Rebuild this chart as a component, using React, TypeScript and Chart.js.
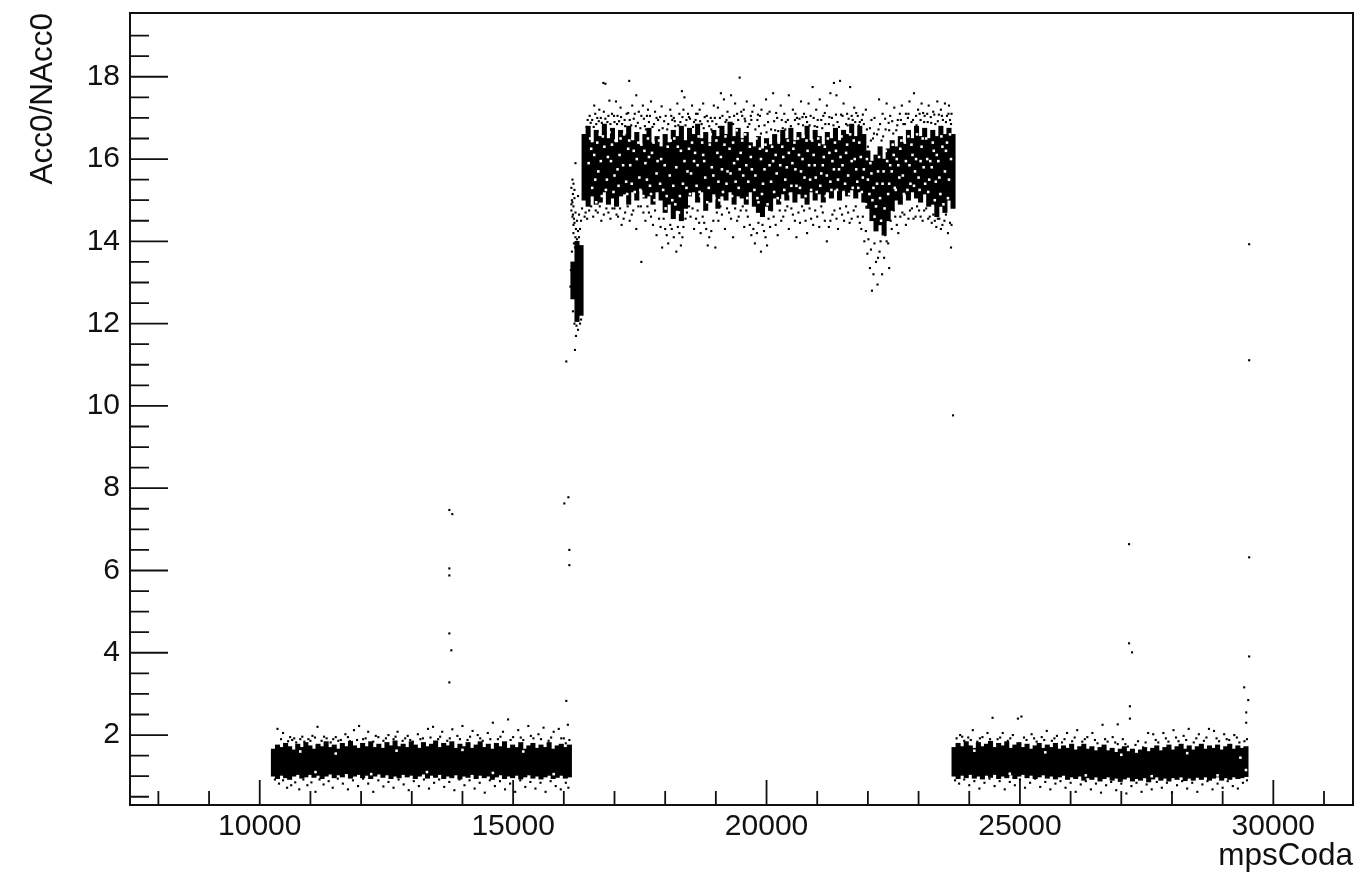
import React, { useEffect, useRef } from "react";
import { Chart, registerables } from "chart.js";

Chart.register(...registerables);

const xMajorTicks = [10000, 15000, 20000, 25000, 30000];
const xMinorTicks = [8000, 9000, 11000, 12000, 13000, 14000, 16000, 17000, 18000, 19000, 21000, 22000, 23000, 24000, 26000, 27000, 28000, 29000, 31000];
const yMajorTicks = [2, 4, 6, 8, 10, 12, 14, 16, 18];
const yMinorTicks = [0.5, 1, 1.5, 2.5, 3, 3.5, 4.5, 5, 5.5, 6.5, 7, 7.5, 8.5, 9, 9.5, 10.5, 11, 11.5, 12.5, 13, 13.5, 14.5, 15, 15.5, 16.5, 17, 17.5, 18.5, 19];

// Saturated core of each band, per 80-unit column of mpsCoda
const binWidth = 80;
const leftBandStart = 10270;
const leftBandLow = [1.0, 0.94, 1.02, 0.96, 0.92, 1.0, 1.04, 0.95, 0.98, 1.04, 0.97, 1.02, 0.94, 1.0, 1.05, 0.96, 1.03, 0.98, 1.06, 0.95, 1.0, 1.04, 0.96, 1.02, 0.94, 1.0, 1.05, 0.97, 1.03, 0.94, 1.0, 0.96, 1.04, 0.98, 1.02, 0.94, 1.0, 1.05, 0.95, 1.02, 0.97, 1.04, 0.94, 1.0, 0.96, 1.03, 0.93, 1.0, 0.97, 1.04, 0.94, 1.02, 0.96, 1.0, 0.92, 0.98, 1.03, 0.94, 1.0, 0.96, 1.02, 0.93, 0.98, 1.03, 0.95, 1.0, 0.93, 0.98, 1.02, 0.94, 0.97, 1.02, 0.95, 0.98];
const leftBandHigh = [1.66, 1.76, 1.7, 1.8, 1.72, 1.64, 1.78, 1.7, 1.82, 1.74, 1.66, 1.78, 1.72, 1.84, 1.7, 1.76, 1.66, 1.8, 1.72, 1.85, 1.74, 1.68, 1.8, 1.72, 1.84, 1.7, 1.78, 1.68, 1.82, 1.74, 1.86, 1.72, 1.78, 1.7, 1.84, 1.76, 1.68, 1.82, 1.72, 1.78, 1.86, 1.7, 1.8, 1.74, 1.84, 1.68, 1.78, 1.72, 1.82, 1.68, 1.76, 1.84, 1.7, 1.78, 1.66, 1.8, 1.72, 1.84, 1.68, 1.76, 1.7, 1.82, 1.66, 1.74, 1.8, 1.68, 1.76, 1.7, 1.82, 1.66, 1.74, 1.78, 1.7, 1.76];
const rightBandStart = 23700;
const rightBandLow = [1.0, 0.94, 1.02, 0.96, 1.04, 0.95, 1.0, 0.93, 1.02, 0.97, 1.04, 0.94, 1.0, 0.96, 1.03, 0.94, 1.0, 1.04, 0.96, 1.02, 0.94, 0.98, 1.03, 0.95, 1.0, 0.93, 0.98, 1.02, 0.92, 0.98, 0.94, 1.0, 0.9, 0.96, 0.92, 0.98, 0.88, 0.94, 0.98, 0.9, 0.95, 0.87, 0.93, 0.97, 0.88, 0.94, 0.9, 0.96, 0.86, 0.93, 0.98, 0.9, 0.95, 0.88, 0.96, 0.92, 0.98, 0.89, 0.95, 0.9, 0.97, 0.92, 0.98, 0.9, 0.95, 0.98, 0.9, 0.96, 0.92, 0.98, 0.94, 0.96, 0.99];
const rightBandHigh = [1.7, 1.8, 1.72, 1.84, 1.74, 1.68, 1.82, 1.72, 1.78, 1.85, 1.7, 1.8, 1.74, 1.84, 1.68, 1.76, 1.82, 1.7, 1.78, 1.66, 1.74, 1.8, 1.68, 1.76, 1.7, 1.8, 1.66, 1.74, 1.68, 1.78, 1.64, 1.72, 1.78, 1.66, 1.72, 1.62, 1.7, 1.76, 1.62, 1.68, 1.58, 1.66, 1.72, 1.6, 1.66, 1.56, 1.64, 1.7, 1.6, 1.68, 1.74, 1.62, 1.7, 1.76, 1.64, 1.72, 1.78, 1.66, 1.74, 1.64, 1.72, 1.78, 1.66, 1.74, 1.68, 1.76, 1.64, 1.72, 1.78, 1.66, 1.74, 1.68, 1.72];
const upperBandStart = 16400;
const upperBandLow = [15.0, 14.85, 15.1, 14.9, 14.95, 15.2, 14.9, 15.05, 14.85, 15.1, 15.15, 14.9, 15.2, 15.0, 15.25, 15.05, 15.1, 14.9, 15.2, 15.0, 14.7, 14.9, 14.55, 14.75, 14.5, 14.8, 15.1, 15.2, 14.95, 15.2, 14.75, 14.95, 15.15, 14.8, 15.1, 15.0, 15.2, 14.9, 15.1, 15.05, 14.9, 15.2, 14.85, 14.7, 14.6, 14.85, 14.75, 15.05, 14.9, 15.15, 15.0, 15.2, 14.95, 15.15, 15.05, 14.9, 15.2, 15.0, 15.15, 14.95, 15.2, 15.05, 15.25, 15.0, 15.2, 15.1, 15.25, 15.05, 15.2, 14.95, 14.8, 14.5, 14.25, 14.4, 14.15, 14.5, 14.75, 15.0, 14.9, 15.15, 15.0, 15.2, 15.05, 14.95, 15.15, 14.85, 14.9, 14.6, 14.85, 14.7, 15.0, 14.8];
const upperBandHigh = [16.6, 16.8, 16.4, 16.7, 16.55, 16.85, 16.5, 16.75, 16.4, 16.7, 16.6, 16.8, 16.45, 16.65, 16.35, 16.6, 16.75, 16.4, 16.55, 16.3, 16.6, 16.4, 16.7, 16.55, 16.8, 16.45, 16.75, 16.6, 16.85, 16.5, 16.65, 16.4, 16.7, 16.55, 16.8, 16.6, 16.9, 16.55, 16.75, 16.5, 16.65, 16.4, 16.3, 16.55, 16.25, 16.5, 16.35, 16.6, 16.4, 16.7, 16.5, 16.75, 16.45, 16.65, 16.5, 16.8, 16.45, 16.7, 16.55, 16.35, 16.65, 16.5, 16.75, 16.45, 16.7, 16.6, 16.85, 16.55, 16.8, 16.6, 16.2, 15.95, 16.1, 16.3, 16.0, 16.25, 16.45, 16.3, 16.55, 16.4, 16.7, 16.5, 16.8, 16.55, 16.75, 16.5, 16.7, 16.55, 16.8, 16.6, 16.75, 16.6];
const spikeCore = [[16180, 12.6, 13.5], [16260, 12.05, 14.0], [16340, 12.2, 13.9]];

// Unfilled pixels inside the upper band's saturated core
const upperBandGaps = [
  [16520, 16.5], [16560, 15.3], [16600, 16.1], [16640, 14.95], [16680, 15.7], [16710, 16.6], [16750, 15.1], [16800, 16.3], [16850, 15.5], [16900, 16.65], [16930, 15.95], [16980, 15.2],
  [17020, 16.45], [17060, 15.75], [17100, 16.1], [17140, 15.05], [17190, 16.6], [17230, 15.45], [17270, 16.25], [17310, 15.85], [17360, 16.5], [17400, 15.2], [17440, 16.0], [17490, 15.55],
  [17530, 16.35], [17570, 15.1], [17610, 15.9], [17660, 16.5], [17700, 15.35], [17740, 16.15], [17790, 15.0], [17830, 15.65], [17880, 16.45], [17920, 16.0], [17960, 15.25], [18010, 14.8],
  [18050, 16.3], [18090, 15.6], [18140, 15.0], [18180, 16.5], [18220, 15.8], [18270, 14.7], [18310, 16.2], [18350, 15.4], [18400, 16.6], [18440, 15.7], [18490, 15.15], [18530, 16.4],
  [18570, 15.95], [18620, 15.35], [18660, 16.55], [18700, 15.1], [18750, 16.1], [18790, 15.55], [18830, 14.95], [18880, 16.35], [18920, 15.8], [18970, 15.05], [19010, 16.45], [19050, 15.45],
  [19100, 16.05], [19140, 15.2], [19190, 16.55], [19230, 15.7], [19270, 16.25], [19320, 15.1], [19360, 15.9], [19410, 16.7], [19450, 15.3], [19490, 16.15], [19540, 15.6], [19580, 16.6],
  [19620, 15.05], [19670, 16.3], [19710, 15.75], [19760, 15.25], [19800, 16.5], [19840, 14.95], [19890, 16.0], [19930, 15.4], [19980, 16.35], [20020, 14.9], [20060, 15.85], [20110, 16.3],
  [20150, 15.2], [20200, 15.65], [20240, 16.4], [20290, 15.0], [20330, 16.05], [20370, 15.5], [20420, 16.45], [20460, 15.15], [20510, 15.9], [20550, 16.4], [20590, 15.35], [20640, 16.1],
  [20680, 15.7], [20730, 16.55], [20770, 15.1], [20810, 16.2], [20860, 15.5], [20900, 16.45], [20950, 15.85], [20990, 15.2], [21040, 16.35], [21080, 15.65], [21130, 16.05], [21170, 15.1],
  [21210, 16.5], [21260, 15.45], [21300, 15.95], [21350, 16.4], [21390, 15.25], [21430, 15.75], [21480, 16.55], [21520, 15.2], [21570, 16.15], [21610, 15.6], [21650, 16.6], [21700, 15.3],
  [21740, 16.0], [21790, 15.45], [21830, 16.4], [21880, 15.2], [21920, 15.75], [21960, 14.9], [22000, 15.5], [22050, 15.9], [22090, 15.0], [22130, 14.6], [22180, 15.4], [22220, 16.05],
  [22260, 14.5], [22310, 15.7], [22350, 16.2], [22400, 15.15], [22440, 15.85], [22490, 16.35], [22530, 15.3], [22570, 16.0], [22620, 15.55], [22660, 16.45], [22710, 15.15], [22750, 15.95],
  [22800, 16.55], [22840, 15.4], [22880, 16.1], [22930, 15.7], [22970, 16.6], [23020, 15.25], [23060, 16.3], [23100, 15.8], [23150, 16.5], [23190, 15.2], [23230, 15.95], [23280, 16.4],
  [23320, 15.0], [23360, 16.1], [23410, 15.55], [23450, 16.55], [23490, 14.9], [23540, 16.2], [23580, 15.05], [23620, 16.6],
  [16490, 15.9], [16540, 16.25], [16620, 15.5], [16660, 16.4], [16730, 15.95], [16770, 16.55], [16830, 15.25], [16870, 16.05], [16950, 16.35], [17000, 15.6], [17080, 15.35], [17120, 16.5],
  [17170, 15.85], [17250, 15.15], [17290, 16.45], [17340, 15.4], [17380, 16.2], [17470, 16.4], [17510, 15.25], [17590, 16.2], [17640, 15.5], [17680, 16.05], [17720, 15.15], [17770, 16.4],
  [17850, 15.95], [17900, 15.4], [17990, 15.85], [18030, 15.1], [18110, 16.45], [18160, 15.35], [18200, 14.9], [18250, 16.3], [18290, 15.1], [18380, 15.95], [18420, 15.3], [18470, 16.25],
  [18510, 15.65], [18590, 16.15], [18640, 15.85], [18680, 15.2], [18730, 16.4], [18770, 15.95], [18860, 15.3], [18900, 16.6], [18950, 15.6], [19030, 16.15], [19070, 15.0], [19120, 15.75],
  [19170, 16.35], [19210, 15.4], [19290, 15.65], [19340, 16.4], [19390, 15.45], [19430, 16.0], [19470, 15.75], [19520, 16.45], [19600, 15.85], [19640, 15.45], [19690, 16.05], [19730, 16.55],
  [19780, 15.6], [19820, 15.05], [19870, 16.25], [19910, 15.15], [19960, 15.75], [20000, 16.2], [20090, 15.45], [20130, 15.95], [20180, 16.1], [20220, 15.05], [20270, 15.85], [20310, 16.3],
  [20350, 15.25], [20400, 15.8], [20440, 16.15], [20490, 15.35], [20530, 16.25], [20570, 15.75], [20620, 16.5], [20660, 15.3], [20710, 16.0], [20750, 15.55], [20790, 16.45], [20840, 15.85],
  [20880, 15.25], [20930, 16.1], [20970, 15.55], [21020, 16.5], [21060, 15.35], [21110, 15.85], [21150, 16.3], [21190, 15.6], [21240, 16.15], [21280, 15.25], [21330, 15.75], [21370, 16.2],
  [21410, 15.5], [21460, 16.05], [21500, 15.85], [21550, 15.4], [21590, 16.35], [21630, 15.15], [21680, 15.95], [21720, 16.45], [21770, 15.75], [21810, 15.3], [21860, 16.05], [21900, 15.55],
  [21980, 16.0], [22030, 15.15], [22070, 15.65], [22110, 15.3], [22160, 14.85], [22200, 15.7], [22240, 15.05], [22290, 15.4], [22330, 14.8], [22380, 15.95], [22420, 15.4], [22470, 15.7],
  [22510, 16.1], [22550, 15.25], [22600, 15.85], [22640, 16.25], [22690, 15.6], [22730, 16.4], [22780, 15.25], [22820, 15.85], [22860, 16.35], [22910, 15.35], [22950, 16.0], [23000, 15.55],
  [23040, 15.95], [23080, 16.5], [23130, 15.4], [23170, 16.0], [23210, 15.5], [23260, 15.8], [23300, 16.2], [23340, 15.45], [23390, 15.95], [23430, 15.15], [23470, 16.3], [23520, 15.7],
  [23560, 16.4], [23600, 15.5], [23640, 16.0],
];
const lowBandGaps = [
  [10800, 1.6], [11100, 1.1], [11500, 1.55], [12200, 1.05], [12700, 1.62], [13300, 1.1], [14000, 1.64], [14600, 1.08], [15200, 1.6], [15800, 1.05],
  [24100, 1.62], [24800, 1.06], [25500, 1.58], [26300, 1.02], [27000, 1.52], [27600, 1.0], [28300, 1.56], [28900, 1.02], [29350, 1.45], [29460, 1.15],
];

// Scattered points around the bands
const upperBandEdges = [
  [16780, 17.85], [16820, 17.83], [17290, 17.9], [16600, 17.3], [16700, 17.2], [16900, 17.42], [16950, 17.1], [17030, 17.4], [17120, 17.25], [17200, 16.95], [17350, 17.3], [17430, 17.55],
  [17480, 17.15], [17560, 17.3], [17640, 17.05], [17720, 17.4], [17800, 17.15], [17860, 16.95], [17930, 17.28], [18010, 17.05], [18100, 17.2], [18170, 17.0], [18240, 17.35], [18330, 17.65],
  [18380, 17.5], [18450, 17.1], [18530, 17.3], [18600, 16.95], [18680, 17.2], [18750, 17.35], [18820, 17.05], [18900, 17.0], [18960, 17.3], [19040, 17.25], [19100, 17.6], [19160, 17.45],
  [19230, 17.15], [19300, 17.55], [19380, 17.35], [19470, 17.98], [19550, 17.2], [19610, 17.4], [19690, 17.05], [19750, 17.3], [19820, 16.95], [19900, 17.2], [19990, 17.45], [20060, 17.15],
  [20130, 17.6], [20210, 17.0], [20280, 17.3], [20350, 17.1], [20440, 17.55], [20520, 17.2], [20600, 17.0], [20680, 17.4], [20740, 17.1], [20830, 17.35], [20910, 17.75], [20980, 17.2],
  [21050, 17.45], [21120, 17.05], [21190, 17.3], [21260, 17.6], [21330, 17.85], [21380, 17.55], [21450, 17.9], [21520, 17.35], [21590, 17.1], [21650, 17.75], [21730, 17.25], [21800, 17.05],
  [21880, 16.95], [21960, 17.2], [22040, 16.75], [22130, 17.0], [22220, 17.45], [22290, 17.1], [22370, 17.35], [22440, 17.05], [22520, 17.25], [22590, 16.95], [22670, 17.3], [22750, 17.1],
  [22820, 17.4], [22910, 17.6], [22990, 17.2], [23060, 17.35], [23120, 17.05], [23200, 17.3], [23290, 17.15], [23370, 17.4], [23440, 17.2], [23520, 17.35], [23600, 17.3], [23650, 17.1],
  [16560, 16.95], [16640, 16.85], [16730, 17.0], [16860, 16.9], [17000, 16.9], [17150, 16.85], [17300, 16.95], [17420, 16.8], [17600, 16.8], [17680, 16.9], [17780, 16.85], [17950, 16.75],
  [18060, 16.85], [18200, 16.8], [18300, 16.9], [18420, 16.95], [18570, 16.9], [18720, 16.85], [18870, 16.8], [19010, 16.85], [19190, 16.9], [19340, 16.85], [19520, 17.05], [19660, 16.85],
  [19850, 16.8], [20000, 16.65], [20170, 16.7], [20320, 16.75], [20480, 16.8], [20630, 16.85], [20800, 16.9], [20950, 16.8], [21100, 16.75], [21230, 16.85], [21400, 16.9], [21570, 16.85],
  [21700, 16.95], [21840, 16.9], [22000, 16.3], [22100, 16.5], [22180, 16.6], [22300, 16.55], [22420, 16.7], [22560, 16.7], [22700, 16.85], [22860, 16.9], [23040, 16.95], [23180, 16.9],
  [23330, 16.85], [23480, 16.95], [23620, 16.95],
  [16510, 17.05], [16620, 17.1], [16690, 16.92], [16790, 17.15], [16880, 17.05], [17060, 17.05], [17090, 16.92], [17240, 17.1], [17380, 16.98], [17530, 17.05], [17660, 17.2], [17900, 17.02],
  [18140, 16.95], [18280, 17.1], [18360, 17.2], [18490, 16.98], [18640, 17.1], [18780, 17.02], [18930, 16.92], [19080, 17.0], [19270, 17.02], [19420, 17.1], [19580, 16.92], [19720, 17.15],
  [19870, 17.05], [20030, 16.9], [20190, 17.12], [20380, 16.9], [20560, 16.95], [20710, 17.02], [20870, 17.05], [21010, 16.95], [21150, 17.12], [21290, 17.0], [21470, 17.08], [21620, 16.98],
  [21770, 17.12], [21920, 16.85], [22070, 16.95], [22240, 16.85], [22340, 16.98], [22480, 16.92], [22630, 17.1], [22790, 17.0], [22950, 17.05], [23090, 17.12], [23240, 17.02], [23400, 17.08],
  [23560, 17.05], [16470, 16.95],
  [16450, 16.78], [16530, 16.88], [16590, 16.78], [16660, 17.0], [16750, 16.88], [16820, 16.98], [16920, 16.85], [16990, 17.05], [17050, 16.85], [17130, 17.02], [17210, 16.8], [17270, 17.12],
  [17330, 16.82], [17400, 17.1], [17460, 16.88], [17510, 16.75], [17580, 16.98], [17620, 16.72], [17700, 17.05], [17750, 16.78], [17830, 17.0], [17880, 16.7], [17980, 16.92], [18040, 16.72],
  [18120, 17.05], [18190, 16.92], [18260, 16.82], [18340, 17.02], [18400, 16.82], [18470, 17.02], [18550, 16.78], [18610, 17.1], [18690, 16.92], [18760, 16.75], [18840, 16.92], [18910, 16.72],
  [18980, 17.0], [19060, 16.78], [19130, 17.05], [19210, 16.95], [19290, 16.78], [19360, 17.05], [19440, 16.95], [19500, 17.15], [19570, 16.98], [19630, 16.78], [19700, 16.95], [19780, 16.72],
  [19830, 17.08], [19890, 16.62], [19960, 16.82], [20020, 17.1], [20090, 16.72], [20150, 16.92], [20230, 16.68], [20300, 16.95], [20370, 16.72], [20420, 16.95], [20500, 16.68], [20570, 17.1],
  [20650, 16.98], [20720, 16.82], [20780, 17.02], [20850, 16.82], [20930, 17.0], [21000, 16.78], [21080, 16.95], [21160, 16.85], [21240, 17.02], [21320, 16.82], [21370, 17.08], [21430, 16.78],
  [21500, 17.05], [21600, 16.82], [21680, 17.05], [21750, 16.9], [21820, 16.82], [21900, 17.08], [21980, 16.72], [22060, 16.45], [22120, 16.62], [22210, 16.72], [22270, 16.45], [22350, 16.72],
  [22410, 16.88], [22500, 16.62], [22580, 16.82], [22650, 16.95], [22730, 16.85], [22800, 17.1], [22890, 16.95], [22960, 16.82], [23020, 17.1], [23110, 16.9], [23170, 17.1], [23250, 16.88],
  [23310, 17.08], [23380, 16.92], [23460, 17.05], [23540, 16.9], [23590, 17.1], [23640, 16.85],
  [16430, 14.7], [16500, 14.75], [16580, 14.6], [16670, 14.7], [16740, 14.5], [16840, 14.8], [16920, 14.55], [17000, 14.8], [17070, 14.6], [17140, 14.4], [17210, 14.7], [17300, 14.5],
  [17370, 14.75], [17430, 14.3], [17530, 13.5], [17520, 14.85], [17610, 14.5], [17680, 14.7], [17760, 14.4], [17830, 14.15], [17880, 14.55], [17940, 13.85], [18000, 14.3], [18060, 13.95],
  [18100, 14.4], [18170, 14.1], [18220, 13.75], [18280, 14.2], [18310, 13.9], [18360, 14.35], [18430, 14.7], [18500, 14.6], [18570, 14.3], [18640, 14.75], [18700, 14.2], [18770, 14.45],
  [18840, 13.9], [18910, 14.25], [18990, 13.85], [19050, 14.5], [19120, 14.65], [19180, 14.3], [19260, 14.7], [19340, 14.1], [19420, 14.5], [19490, 14.75], [19560, 14.35], [19630, 14.6],
  [19700, 14.15], [19770, 13.95], [19840, 14.45], [19890, 13.75], [19950, 14.25], [20010, 13.9], [20070, 14.35], [20140, 14.6], [20220, 14.15], [20290, 14.5], [20370, 14.75], [20440, 14.3],
  [20520, 14.65], [20590, 14.1], [20660, 14.45], [20740, 14.75], [20800, 14.2], [20880, 14.55], [20960, 14.75], [21040, 14.35], [21110, 14.7], [21190, 14.0], [21260, 14.5], [21340, 14.75],
  [21410, 14.3], [21490, 14.65], [21570, 14.85], [21640, 14.45], [21720, 14.75], [21800, 14.6], [21870, 14.3], [21930, 14.0], [21990, 13.7], [22040, 13.35], [22080, 12.8], [22110, 13.2],
  [22160, 13.5], [22190, 12.95], [22230, 13.75], [22280, 13.2], [22320, 13.6], [22370, 14.0], [22420, 13.35], [22470, 14.3], [22540, 14.6], [22600, 14.2], [22680, 14.7], [22750, 14.4],
  [22830, 14.75], [22900, 14.55], [22970, 14.85], [23040, 14.6], [23110, 14.75], [23190, 14.55], [23260, 14.45], [23320, 14.5], [23380, 14.55], [23440, 14.3], [23510, 14.5], [23580, 14.2],
  [23640, 13.85], [23650, 14.4],
  [16460, 14.55], [16540, 14.85], [16630, 14.75], [16710, 14.85], [16790, 14.65], [16880, 14.7], [16960, 14.8], [17040, 14.65], [17110, 14.8], [17180, 14.55], [17260, 14.85], [17340, 14.65],
  [17470, 14.85], [17570, 14.7], [17650, 14.85], [17720, 14.6], [17800, 14.75], [17910, 14.35], [17970, 14.55], [18030, 14.15], [18130, 14.3], [18250, 14.35], [18340, 14.1], [18400, 14.55],
  [18470, 14.85], [18540, 14.8], [18610, 14.55], [18670, 14.45], [18740, 14.6], [18810, 14.3], [18870, 14.1], [18950, 14.5], [19020, 14.7], [19090, 14.85], [19220, 14.8], [19300, 14.55],
  [19380, 14.8], [19450, 14.6], [19530, 14.85], [19600, 14.75], [19670, 14.4], [19740, 14.3], [19810, 14.2], [19920, 14.4], [19980, 14.1], [20040, 14.55], [20100, 14.75], [20180, 14.4],
  [20260, 14.75], [20330, 14.6], [20410, 14.85], [20490, 14.8], [20560, 14.5], [20630, 14.7], [20700, 14.85], [20770, 14.5], [20850, 14.8], [20920, 14.4], [21000, 14.6], [21080, 14.85],
  [21150, 14.5], [21230, 14.35], [21300, 14.65], [21380, 14.55], [21450, 14.8], [21530, 14.5], [21610, 14.7], [21680, 14.55], [21760, 14.85], [21840, 14.45], [21900, 14.6], [21960, 14.25],
  [22010, 14.05], [22060, 13.8], [22130, 13.95], [22200, 13.6], [22250, 14.0], [22340, 14.15], [22400, 13.95], [22450, 14.5], [22510, 14.75], [22570, 14.4], [22640, 14.6], [22720, 14.65],
  [22800, 14.55], [22870, 14.8], [22940, 14.6], [23010, 14.75], [23080, 14.5], [23150, 14.8], [23220, 14.6], [23290, 14.65], [23350, 14.35], [23410, 14.55], [23470, 14.4], [23540, 14.65], [23620, 14.45],
];
const spikeEdges = [
  [16170, 15.5], [16190, 15.4], [16180, 15.15], [16210, 15.05], [16190, 14.85], [16230, 14.7], [16170, 14.6], [16210, 14.45], [16240, 14.3], [16190, 14.2], [16230, 14.1], [16260, 14.05],
  [16200, 13.95], [16160, 13.75], [16300, 14.1], [16320, 14.3], [16340, 14.5], [16360, 14.8], [16300, 14.65], [16280, 15.1], [16400, 15.6], [16420, 16.0], [16410, 14.6], [16230, 15.9],
  [16180, 12.3], [16210, 12.0], [16250, 11.95], [16280, 11.85], [16320, 12.0], [16240, 11.7], [16220, 11.36], [16340, 12.1], [16130, 12.9], [16140, 13.3], [16150, 14.9], [16160, 15.0],
  [16170, 14.95], [16150, 14.75], [16180, 14.65], [16200, 14.55], [16150, 15.3], [16210, 15.25], [16190, 14.4], [16220, 13.85], [16280, 14.25], [16260, 14.5],
];
const lowBandEdges = [
  [10350, 2.15], [10460, 2.05], [10800, 1.9], [10560, 1.85], [10640, 1.88], [10720, 1.82], [10880, 1.84], [10960, 1.9], [11040, 1.98], [11140, 2.2], [11220, 1.86], [11320, 1.92], [11400, 1.82],
  [11500, 1.95], [11600, 1.88], [11690, 2.02], [11780, 1.85], [11860, 2.12], [11960, 2.22], [12040, 1.9], [12140, 2.08], [12240, 1.84], [12340, 1.95], [12440, 1.86], [12540, 2.0], [12640, 1.9],
  [12720, 2.08], [12820, 1.86], [12920, 1.98], [13020, 1.84], [13120, 2.02], [13220, 1.92], [13320, 2.15], [13420, 2.2], [13520, 1.9], [13600, 2.08], [13700, 1.86], [13800, 2.14], [13900, 1.98],
  [14000, 2.22], [14100, 1.88], [14200, 2.1], [14300, 2.0], [14400, 1.86], [14500, 2.05], [14600, 2.3], [14700, 1.9], [14800, 2.08], [14900, 2.38], [15000, 1.95], [15100, 2.12], [15200, 1.88],
  [15300, 2.22], [15400, 1.92], [15500, 2.02], [15600, 2.18], [15700, 1.86], [15800, 2.08], [15900, 2.15], [16000, 1.92], [16080, 2.25], [16040, 1.8],
  [10420, 1.9], [10600, 1.95], [10680, 1.92], [10840, 1.96], [11000, 1.86], [11090, 1.94], [11270, 1.96], [11450, 1.9], [11550, 1.86], [11740, 1.95], [11920, 1.88], [12090, 1.92], [12290, 1.98],
  [12490, 1.92], [12680, 1.96], [12870, 1.92], [12970, 1.88], [13170, 1.9], [13370, 1.94], [13560, 1.96], [13750, 1.92], [13950, 1.9], [14150, 1.96], [14350, 1.92], [14550, 1.9], [14750, 1.96],
  [14950, 1.88], [15150, 1.94], [15350, 1.98], [15550, 1.9], [15750, 1.94], [15950, 1.92], [16110, 1.88],
  [10300, 0.92], [10380, 0.82], [10460, 0.9], [10540, 0.72], [10620, 0.78], [10700, 0.85], [10780, 0.68], [10860, 0.92], [10940, 0.78], [11020, 0.85], [11100, 0.62], [11180, 0.92], [11260, 0.8],
  [11360, 0.88], [11440, 0.72], [11540, 0.94], [11640, 0.82], [11740, 0.68], [11840, 0.9], [11940, 0.76], [12040, 0.94], [12140, 0.82], [12240, 0.62], [12340, 0.9], [12440, 0.75], [12540, 0.86],
  [12640, 0.72], [12740, 0.92], [12840, 0.8], [12940, 0.66], [13040, 0.88], [13140, 0.76], [13240, 0.92], [13340, 0.7], [13440, 0.84], [13540, 0.92], [13640, 0.74], [13740, 0.86], [13840, 0.66],
  [13940, 0.92], [14040, 0.78], [14140, 0.9], [14240, 0.7], [14340, 0.84], [14440, 0.6], [14540, 0.9], [14640, 0.76], [14740, 0.88], [14840, 0.68], [14940, 0.82], [15040, 0.62], [15140, 0.9],
  [15240, 0.74], [15340, 0.86], [15440, 0.7], [15540, 0.84], [15640, 0.62], [15740, 0.88], [15840, 0.76], [15940, 0.68], [16040, 0.84], [16090, 0.72],
  [23820, 2.0], [23900, 1.86], [23980, 1.94], [24070, 2.12], [24160, 1.84], [24260, 1.95], [24360, 2.05], [24460, 2.42], [24560, 1.9], [24660, 2.05], [24760, 1.86], [24860, 2.0], [24960, 2.4],
  [25030, 2.45], [25130, 1.88], [25230, 2.02], [25330, 1.84], [25430, 1.95], [25530, 2.1], [25630, 1.86], [25730, 1.98], [25830, 1.82], [25930, 2.05], [26030, 1.85], [26130, 2.12], [26230, 1.84],
  [26330, 1.95], [26430, 2.05], [26530, 1.8], [26630, 2.25], [26730, 1.84], [26830, 1.95], [26930, 1.78], [27030, 1.9], [27130, 1.72], [27330, 1.85], [27430, 1.7], [27530, 2.05], [27630, 2.02],
  [27730, 1.82], [27830, 2.05], [27930, 1.84], [28030, 2.12], [28130, 1.85], [28230, 1.98], [28330, 2.15], [28430, 1.82], [28530, 2.02], [28630, 1.86], [28730, 2.15], [28830, 2.1], [28930, 1.85],
  [29030, 2.02], [29130, 1.88], [29230, 2.0], [29330, 1.82], [29430, 1.85],
  [23750, 1.92], [23860, 1.96], [24030, 1.88], [24210, 1.92], [24410, 1.9], [24610, 1.94], [24810, 1.92], [25080, 1.94], [25280, 1.92], [25480, 1.88], [25680, 1.92], [25880, 1.9], [26080, 1.94],
  [26280, 1.9], [26480, 1.88], [26680, 1.9], [26880, 1.82], [27080, 1.78], [27280, 1.76], [27480, 1.82], [27680, 1.88], [27880, 1.92], [28080, 1.94], [28280, 1.88], [28480, 1.92], [28680, 1.94],
  [28880, 1.92], [29080, 1.9], [29280, 1.94], [29480, 1.9],
  [23720, 0.9], [23800, 0.82], [23900, 0.92], [24000, 0.78], [24100, 0.88], [24200, 0.7], [24300, 0.84], [24400, 0.94], [24500, 0.76], [24600, 0.88], [24700, 0.68], [24800, 0.86], [24900, 0.78],
  [25000, 0.92], [25100, 0.72], [25200, 0.84], [25300, 0.94], [25400, 0.74], [25500, 0.86], [25600, 0.68], [25700, 0.82], [25800, 0.88], [25900, 0.72], [26000, 0.84], [26100, 0.62], [26200, 0.8],
  [26300, 0.88], [26400, 0.68], [26500, 0.82], [26600, 0.6], [26700, 0.78], [26800, 0.86], [26900, 0.66], [27000, 0.82], [27100, 0.58], [27200, 0.76], [27300, 0.84], [27400, 0.62], [27500, 0.8],
  [27600, 0.68], [27700, 0.86], [27800, 0.72], [27900, 0.84], [28000, 0.6], [28100, 0.78], [28200, 0.88], [28300, 0.7], [28400, 0.84], [28500, 0.62], [28600, 0.8], [28700, 0.88], [28800, 0.68],
  [28900, 0.82], [29000, 0.72], [29100, 0.88], [29200, 0.76], [29300, 0.7], [29400, 0.84], [29480, 0.9],
];
const outliers = [
  [13741, 7.47], [13800, 7.37], [13741, 6.05], [13741, 5.88], [13741, 4.47], [13780, 4.06], [13741, 3.28],
  [16049, 11.08], [16090, 7.78], [16010, 7.63], [16109, 6.5], [16109, 6.13], [16049, 2.83], [23680, 9.77],
  [29523, 13.93], [29523, 11.11], [29523, 6.32], [29523, 3.91], [29425, 3.16], [29505, 2.85], [29465, 2.55], [29465, 2.3],
  [27153, 6.64], [27153, 4.23], [27212, 4.01], [27170, 2.7], [27170, 2.4], [26930, 2.26],
];

const xMin = 7440;
const xMax = 31572;
const yMin = 0.3;
const yMax = 19.55;
const xTitle = "mpsCoda";
const yTitle = "Acc0/NAcc0";

const toPoints = (rows: number[][]) => rows.map(([x, y]) => ({ x, y }));
const toBars = (start: number, lows: number[], highs: number[]) =>
  lows.map((lo, i) => ({ x: start + i * binWidth, y: [lo, highs[i]] }));

const rootAxes = {
  id: "rootAxes",
  afterDatasetsDraw(chart: any) {
    const { ctx, chartArea: a, scales } = chart;
    ctx.save();
    ctx.strokeStyle = "#111";
    ctx.lineWidth = 1.8;
    ctx.beginPath();
    const xTick = (v: number, len: number) => {
      const p = scales.x.getPixelForValue(v);
      ctx.moveTo(p, a.bottom);
      ctx.lineTo(p, a.bottom - len);
    };
    const yTick = (v: number, len: number) => {
      const p = scales.y.getPixelForValue(v);
      ctx.moveTo(a.left, p);
      ctx.lineTo(a.left + len, p);
    };
    xMajorTicks.forEach((v) => xTick(v, 25));
    xMinorTicks.forEach((v) => xTick(v, 14));
    yMajorTicks.forEach((v) => yTick(v, 38));
    yMinorTicks.forEach((v) => yTick(v, 19));
    ctx.stroke();
    ctx.lineWidth = 2;
    ctx.strokeRect(a.left, a.top, a.right - a.left, a.bottom - a.top);
    ctx.restore();
  },
};

export default function App() {
  const ref = useRef<HTMLCanvasElement>(null);
  useEffect(() => {
    const dot = { type: "scatter", showLine: false, pointStyle: "rect", pointBorderWidth: 0 };
    const chart = new Chart(ref.current as HTMLCanvasElement, {
      type: "bar",
      data: {
        datasets: [
          { ...dot, label: "gaps", pointRadius: 1.8, data: toPoints([...upperBandGaps, ...lowBandGaps]), backgroundColor: "#fff", pointBackgroundColor: "#fff", order: 0 },
          { ...dot, label: "scatter", pointRadius: 1.5, data: toPoints([...upperBandEdges, ...spikeEdges, ...lowBandEdges, ...outliers]), backgroundColor: "#000", pointBackgroundColor: "#000", order: 1 },
          {
            type: "bar",
            label: "core",
            data: [
              ...toBars(leftBandStart, leftBandLow, leftBandHigh),
              ...spikeCore.map(([x, lo, hi]) => ({ x, y: [lo, hi] })),
              ...toBars(upperBandStart, upperBandLow, upperBandHigh),
              ...toBars(rightBandStart, rightBandLow, rightBandHigh),
            ],
            backgroundColor: "#000",
            barThickness: 4.4,
            borderWidth: 0,
            order: 2,
          },
        ] as any,
      },
      options: {
        animation: false,
        responsive: false,
        layout: { padding: { top: 13, right: 11, left: 0, bottom: 0 } },
        plugins: { legend: { display: false }, tooltip: { enabled: false } },
        scales: {
          x: {
            type: "linear",
            min: xMin,
            max: xMax,
            offset: false,
            grid: { display: false, drawTicks: false },
            border: { display: false },
            afterBuildTicks: (s: any) => { s.ticks = xMajorTicks.map((value) => ({ value })); },
            afterFit: (s: any) => { s.height = 67; s.paddingLeft = 0; s.paddingRight = 0; },
            ticks: { autoSkip: false, maxRotation: 0, padding: 4, color: "#111", font: { family: "'Liberation Sans'", size: 30 }, callback: (v: any) => String(v) },
            title: { display: true, text: xTitle, align: "end", color: "#111", padding: 0, font: { family: "'Liberation Sans'", size: 31.5, lineHeight: 1 } },
          },
          y: {
            type: "linear",
            min: yMin,
            max: yMax,
            grid: { display: false, drawTicks: false },
            border: { display: false },
            afterBuildTicks: (s: any) => { s.ticks = yMajorTicks.map((value) => ({ value })); },
            afterFit: (s: any) => { s.width = 130; s.paddingTop = 0; s.paddingBottom = 0; },
            ticks: { autoSkip: false, padding: 10, color: "#111", font: { family: "'Liberation Sans'", size: 30 }, callback: (v: any) => String(v) },
            title: { display: true, text: yTitle, align: "end", color: "#111", padding: { top: 28, bottom: 0 }, font: { family: "'Liberation Sans'", size: 31.5, lineHeight: 1 } },
          },
        },
      } as any,
      plugins: [rootAxes],
    });
    return () => chart.destroy();
  }, []);
  return (
    <div style={{ position: "fixed", left: 0, top: 0, width: 1364, height: 872, background: "#fff" }}>
      <canvas ref={ref} width={1364} height={872} style={{ display: "block", width: 1364, height: 872, filter: "blur(0.4px)" }} />
    </div>
  );
}
